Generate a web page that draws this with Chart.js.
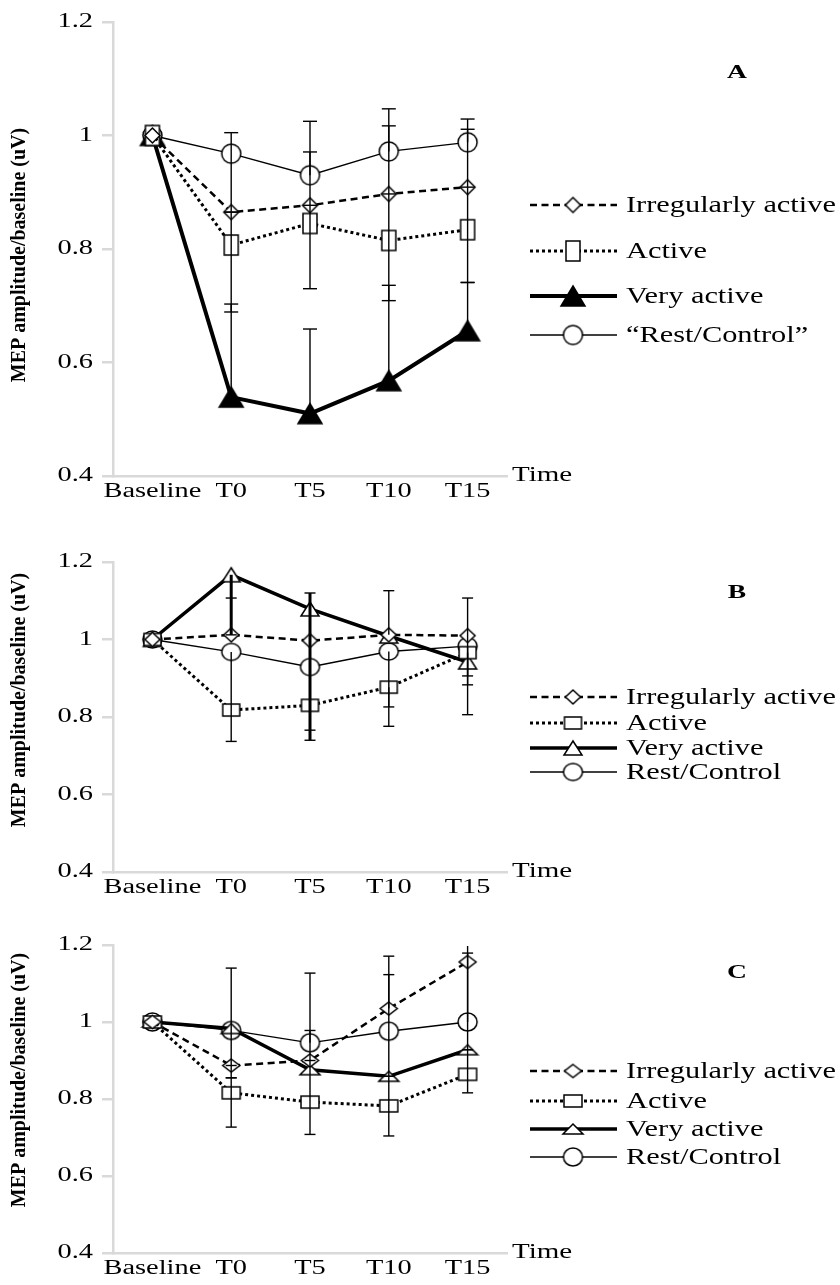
<!DOCTYPE html>
<html>
<head>
<meta charset="utf-8">
<script src="https://cdn.jsdelivr.net/npm/chart.js@4.4.1/dist/chart.umd.min.js"></script>
<style>
  html, body { margin: 0; padding: 0; background: #fff; }
  body { width: 840px; height: 1285px; position: relative; overflow: hidden; }
  canvas { position: absolute; left: 0; }
</style>
</head>
<body>
<canvas id="chartA" width="840" height="515" style="top:0px"></canvas>
<canvas id="chartB" width="840" height="371" style="top:540px"></canvas>
<canvas id="chartC" width="840" height="365" style="top:920px"></canvas>
<script>
// categorias y series
const categories = ['Baseline', 'T0', 'T5', 'T10', 'T15'];
const labelsA = ['Irregularly active', 'Active', 'Very active', '\u201CRest/Control\u201D'];
const labelsBC = ['Irregularly active', 'Active', 'Very active', 'Rest/Control'];
const yTicks = [0.4, 0.6, 0.8, 1, 1.2];

// Panel A
const aIrregular = [1, 0.865, 0.877, 0.897, 0.909];
const aActive = [1, 0.807, 0.845, 0.815, 0.834];
const aVeryActive = [1, 0.539, 0.51, 0.568, 0.656];
const aRest = [1, 0.968, 0.93, 0.972, 0.988];
// extremos de las barras de error [bajo, alto]
const aIrregularErr = [null, null, [0.877, 0.971], [0.897, 1.017], [0.909, 1.011]];
const aActiveErr = [null, [0.689, 0.865], [0.73, 0.877], [0.709, 0.897], [0.741, 0.909]];
const aVeryActiveErr = [null, [0.539, 0.703], [0.51, 0.659], [0.568, 0.736], [0.656, 0.741]];
const aRestErr = [null, [0.865, 1.005], [0.93, 1.025], [0.972, 1.047], [0.988, 1.029]];

// Panel B
const bIrregular = [1, 1.012, 0.997, 1.012, 1.01];
const bActive = [1, 0.818, 0.83, 0.877, 0.966];
const bVeryActive = [1, 1.167, 1.079, 1.009, 0.942];
const bRest = [1, 0.968, 0.929, 0.969, 0.983];
const bIrregularErr = [null, [1.012, 1.107], null, [1.012, 1.126], [0.883, 1.107]];
const bActiveErr = [null, null, [0.766, 0.83], [0.826, 0.877], [0.906, 0.966]];
const bVeryActiveErr = [null, [1.012, 1.167], [0.74, 1.12], null, null];
const bRestErr = [null, [0.737, 0.968], null, [0.776, 0.969], [0.806, 0.983]];

// Panel C
const cIrregular = [1, 0.887, 0.9, 1.035, 1.156];
const cActive = [1, 0.816, 0.792, 0.782, 0.864];
const cVeryActive = [1, 0.983, 0.876, 0.859, 0.928];
const cRest = [1, 0.978, 0.946, 0.976, 1.0];
const cIrregularErr = [null, [0.855, 0.887], [0.9, 0.978], [1.035, 1.171], [0.928, 1.179]];
const cActiveErr = [null, [0.727, 0.855], [0.708, 0.9], [0.704, 0.859], [0.816, 0.928]];
const cVeryActiveErr = [null, null, null, null, null];
const cRestErr = [null, [0.887, 1.14], [0.946, 1.127], [0.859, 1.123], [1.0, 1.21]];

const serif = "'Liberation Serif', 'Times New Roman', serif";

// marcadores dibujados en un canvas aparte
function marker(shape, w, h, fill) {
  const c = document.createElement('canvas');
  c.width = Math.ceil(w) + 4;
  c.height = Math.ceil(h) + 4;
  const g = c.getContext('2d');
  const cx = c.width / 2, cy = c.height / 2;
  g.lineWidth = 1.5;
  g.strokeStyle = '#000';
  g.fillStyle = fill;
  g.beginPath();
  if (shape === 'circle') {
    g.ellipse(cx, cy, w / 2, h / 2, 0, 0, Math.PI * 2);
  } else if (shape === 'rect') {
    g.rect(cx - w / 2, cy - h / 2, w, h);
  } else if (shape === 'diamond') {
    g.moveTo(cx, cy - h / 2);
    g.lineTo(cx + w / 2, cy);
    g.lineTo(cx, cy + h / 2);
    g.lineTo(cx - w / 2, cy);
    g.closePath();
  } else {
    g.moveTo(cx, cy - h / 2);
    g.lineTo(cx + w / 2, cy + h / 2);
    g.lineTo(cx - w / 2, cy + h / 2);
    g.closePath();
  }
  g.fill();
  g.stroke();
  return c;
}

function drawText(ctx, text, x, y, font, align, sx) {
  ctx.font = font;
  ctx.textBaseline = 'middle';
  ctx.textAlign = align;
  ctx.textScale = sx;
  ctx.fillText(text, x, y);
}

const panelPlugin = {
  id: 'panelDecor',
  beforeInit(chart) {
    // texto ensanchado en horizontal como en la figura original
    const ctx = chart.ctx;
    const plain = ctx.fillText;
    ctx.textScale = 1;
    ctx.fillText = function (text, x, y) {
      if (this.textScale === 1) return plain.call(this, text, x, y);
      this.save();
      this.translate(x, y);
      this.scale(this.textScale, 1);
      plain.call(this, text, 0, 0);
      this.restore();
    };
  },
  beforeDraw(chart) {
    chart.ctx.textScale = 1.42;
  },
  afterDatasetsDraw(chart, args, opts) {
    const ctx = chart.ctx;
    const area = chart.chartArea;
    const xs = chart.scales.x, ys = chart.scales.y;
    ctx.save();
    ctx.beginPath();
    ctx.rect(area.left, area.top + 1, area.right - area.left, area.bottom - area.top);
    ctx.clip();
    ctx.strokeStyle = '#000';
    chart.data.datasets.forEach(ds => {
      ds.errorBars.forEach((e, j) => {
        if (!e) return;
        const x = xs.getPixelForValue(j);
        const y0 = ys.getPixelForValue(e[0]);
        const y1 = ys.getPixelForValue(e[1]);
        ctx.lineWidth = ds.errorWidth;
        ctx.beginPath();
        ctx.moveTo(x, y0);
        ctx.lineTo(x, y1);
        ctx.stroke();
        ctx.lineWidth = 1.4;
        [e[0], e[1]].forEach((v, k) => {
          if (v === ds.data[j]) return;
          const y = k === 0 ? y0 : y1;
          ctx.beginPath();
          ctx.moveTo(x - opts.cap, y);
          ctx.lineTo(x + opts.cap, y);
          ctx.stroke();
        });
      });
    });
    ctx.restore();
  },
  afterDraw(chart, args, opts) {
    const ctx = chart.ctx;
    const area = chart.chartArea;
    ctx.save();
    ctx.fillStyle = '#000';
    // titulo del eje y (sin ensanchar)
    ctx.save();
    ctx.translate(20, opts.titleY);
    ctx.rotate(-Math.PI / 2);
    drawText(ctx, 'MEP amplitude/baseline (uV)', 0, 0, 'bold 20px ' + serif, 'center', 1);
    ctx.restore();
    drawText(ctx, 'Time', area.right + 5, area.bottom, '20px ' + serif, 'left', 1.45);
    drawText(ctx, opts.letter, 737, opts.letterY, 'bold 19px ' + serif, 'center', 1.45);
    // leyenda con linea y marcador
    chart.data.datasets.forEach((ds, i) => {
      const y = opts.legendY[i];
      ctx.save();
      ctx.strokeStyle = '#000';
      ctx.lineWidth = ds.borderWidth;
      ctx.setLineDash(ds.borderDash);
      ctx.beginPath();
      ctx.moveTo(530, y);
      ctx.lineTo(617, y);
      ctx.stroke();
      ctx.restore();
      const img = ds.pointStyle;
      ctx.drawImage(img, 573 - img.width / 2, y - img.height / 2);
      drawText(ctx, ds.label, 626, y + 1, '23px ' + serif, 'left', 1.32);
    });
    ctx.textScale = 1;
    ctx.restore();
  }
};

function buildDatasets(labels, values, errs, marks, vaWidth, errWidths) {
  const lineStyles = [
    { borderWidth: 2.5, borderDash: [7, 4.5] },
    { borderWidth: 3, borderDash: [3, 3] },
    { borderWidth: vaWidth, borderDash: [] },
    { borderWidth: 1.3, borderDash: [] }
  ];
  return values.map((v, i) => ({
    label: labels[i],
    data: v,
    errorBars: errs[i],
    errorWidth: errWidths[i],
    borderColor: '#000',
    backgroundColor: '#fff',
    borderWidth: lineStyles[i].borderWidth,
    borderDash: lineStyles[i].borderDash,
    borderCapStyle: 'butt',
    pointStyle: marks[i],
    pointRadius: 6,
    pointHoverRadius: 6,
    tension: 0,
    fill: false
  }));
}

function makeChart(id, datasets, cfg) {
  return new Chart(document.getElementById(id), {
    type: 'line',
    data: { labels: categories, datasets: datasets },
    options: {
      responsive: false,
      animation: false,
      devicePixelRatio: 1,
      events: [],
      layout: { padding: { left: 0, right: 333, top: cfg.top, bottom: 0 } },
      plugins: {
        legend: { display: false },
        tooltip: { enabled: false },
        panelDecor: cfg
      },
      scales: {
        x: {
          offset: true,
          grid: { display: false, drawTicks: false },
          border: { display: true, color: '#d9d9d9', width: 2.5 },
          ticks: { color: '#000', font: { family: serif, size: 20 }, padding: 4, maxRotation: 0, minRotation: 0, autoSkip: false },
          afterFit: s => { s.height = cfg.xHeight; }
        },
        y: {
          min: yTicks[0],
          max: yTicks[yTicks.length - 1],
          grid: { drawOnChartArea: false, color: '#d9d9d9', lineWidth: 2.5, tickLength: 11, tickWidth: 2.5 },
          border: { color: '#d9d9d9', width: 2.5 },
          afterBuildTicks: s => { s.ticks = yTicks.map(v => ({ value: v })); },
          ticks: { color: '#000', font: { family: serif, size: 20 }, padding: 9, callback: v => String(+Number(v).toFixed(1)) },
          afterFit: s => { s.width = 113; }
        }
      }
    },
    plugins: [panelPlugin]
  });
}

const marksA = [marker('diamond', 15, 15, '#fff'), marker('rect', 14, 20, '#fff'), marker('triangle', 24, 20, '#000'), marker('circle', 19, 19, '#fff')];
const marksB = [marker('diamond', 15, 14, '#fff'), marker('rect', 17, 12, '#fff'), marker('triangle', 18, 14, '#fff'), marker('circle', 19, 17, '#fff')];
const marksC = [marker('diamond', 17, 13, '#fff'), marker('rect', 18, 12, '#fff'), marker('triangle', 20, 10, '#fff'), marker('circle', 19, 18, '#fff')];

makeChart('chartA',
  buildDatasets(labelsA, [aIrregular, aActive, aVeryActive, aRest], [aIrregularErr, aActiveErr, aVeryActiveErr, aRestErr], marksA, 4, [1.4, 1.4, 1.4, 1.4]),
  { top: 22, xHeight: 39, letter: 'A', letterY: 73, legendY: [205, 251, 296, 335], titleY: 255, cap: 7 });

makeChart('chartB',
  buildDatasets(labelsBC, [bIrregular, bActive, bVeryActive, bRest], [bIrregularErr, bActiveErr, bVeryActiveErr, bRestErr], marksB, 3.5, [1.4, 1.4, 3, 1.4]),
  { top: 22, xHeight: 39, letter: 'B', letterY: 53, legendY: [157, 183, 208, 232], titleY: 160, cap: 5.5 });

makeChart('chartC',
  buildDatasets(labelsBC, [cIrregular, cActive, cVeryActive, cRest], [cIrregularErr, cActiveErr, cVeryActiveErr, cRestErr], marksC, 3.5, [1.4, 1.4, 1.4, 1.4]),
  { top: 25, xHeight: 32, letter: 'C', letterY: 53, legendY: [151, 181, 209, 237], titleY: 160, cap: 5.5 });
</script>
</body>
</html>
